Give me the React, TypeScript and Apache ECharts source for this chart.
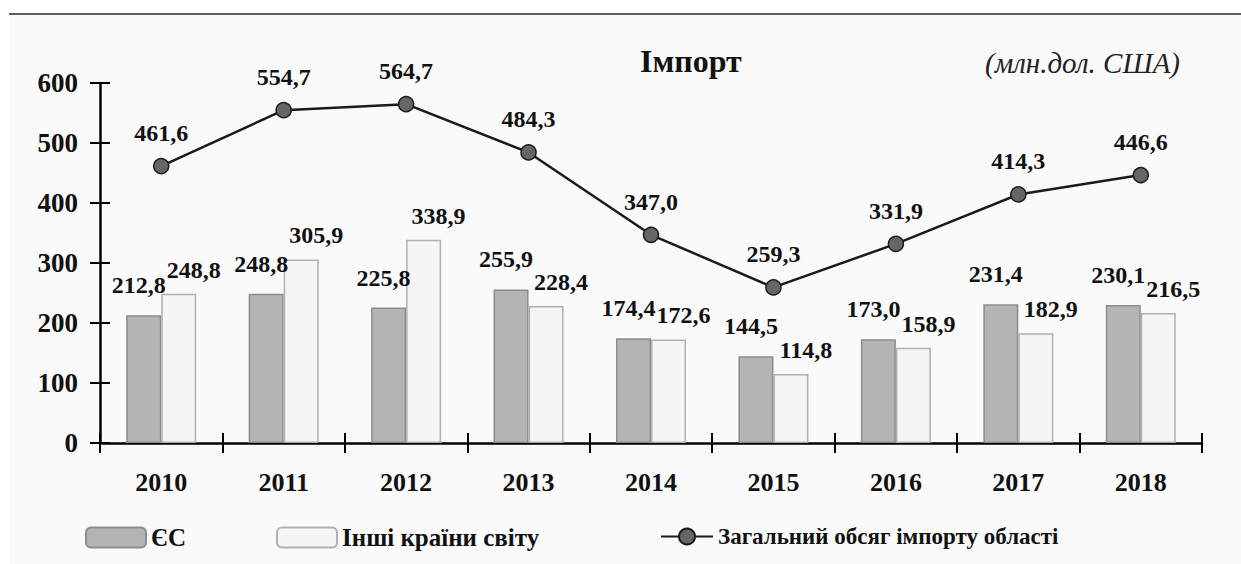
import React, { useEffect, useRef } from "react";
import * as echarts from "echarts";

const years = ["2010", "2011", "2012", "2013", "2014", "2015", "2016", "2017", "2018"];
const euValues = [212.8, 248.8, 225.8, 255.9, 174.4, 144.5, 173.0, 231.4, 230.1];
const otherValues = [248.8, 305.9, 338.9, 228.4, 172.6, 114.8, 158.9, 182.9, 216.5];
const totalValues = [461.6, 554.7, 564.7, 484.3, 347.0, 259.3, 331.9, 414.3, 446.6];
const yTicks = { min: 0, max: 600, interval: 100 };

const FONT = "Liberation Serif";
const fmt = (v: number) => v.toFixed(1).replace(".", ",");

export default function App() {
  const ref = useRef<HTMLDivElement>(null);
  useEffect(() => {
    if (!ref.current) return;
    const chart = echarts.init(ref.current, null, { renderer: "svg" });
    const labelBase = {
      show: true,
      position: "top" as const,
      fontFamily: FONT,
      fontWeight: "bold" as const,
      fontSize: 24,
      color: "#111",
      formatter: (p: any) => fmt(p.value),
    };
    const legendText = { fontFamily: FONT, fontWeight: "bold", fontSize: 25, color: "#111" };
    chart.setOption({
      animation: false,
      backgroundColor: "transparent",
      textStyle: { fontFamily: FONT },
      title: [
        {
          text: "Імпорт",
          left: 640,
          top: 45,
          padding: 0,
          textStyle: { fontFamily: FONT, fontWeight: "bold", fontSize: 32, color: "#111" },
        },
        {
          text: "(млн.дол. США)",
          left: 985,
          top: 48,
          padding: 0,
          textStyle: { fontFamily: FONT, fontStyle: "italic", fontWeight: "normal", fontSize: 29, color: "#222" },
        },
      ],
      grid: { left: 100, right: 39, top: 83, bottom: 121, containLabel: false },
      legend: [
        { data: ["ЄС"], left: 85, top: 525, padding: 0, itemWidth: 60, itemHeight: 20, textStyle: legendText },
        {
          data: ["Інші країни світу"],
          left: 276,
          top: 525,
          padding: 0,
          itemWidth: 60,
          itemHeight: 20,
          textStyle: legendText,
        },
        {
          data: ["Загальний обсяг імпорту області"],
          left: 660,
          top: 525,
          padding: 0,
          itemWidth: 52,
          itemHeight: 20,
          textStyle: { ...legendText, fontSize: 23 },
        },
      ],
      xAxis: [
        {
          type: "category",
          data: years,
          axisLine: { lineStyle: { color: "#000", width: 2.5 } },
          axisTick: { show: true, length: 10, inside: false, lineStyle: { color: "#000", width: 2 } },
          axisLabel: { fontFamily: FONT, fontWeight: "bold", fontSize: 26, color: "#111", margin: 26 },
        },
        {
          type: "category",
          data: years,
          position: "bottom",
          axisLine: { show: false },
          axisTick: { show: true, length: 10, inside: true, lineStyle: { color: "#000", width: 2 } },
          axisLabel: { show: false },
        },
      ],
      yAxis: [
        {
          type: "value",
          ...yTicks,
          position: "left",
          splitLine: { show: false },
          axisLine: { show: true, lineStyle: { color: "#000", width: 2.5 } },
          axisTick: { show: true, length: 10, inside: false, lineStyle: { color: "#000", width: 2 } },
          axisLabel: { fontFamily: FONT, fontWeight: "bold", fontSize: 27, color: "#111", margin: 22 },
        },
        {
          type: "value",
          ...yTicks,
          position: "left",
          splitLine: { show: false },
          axisLine: { show: false },
          axisTick: { show: true, length: 10, inside: true, lineStyle: { color: "#000", width: 2 } },
          axisLabel: { show: false },
        },
      ],
      series: [
        {
          name: "ЄС",
          type: "bar",
          data: euValues,
          barWidth: 35,
          barGap: "0%",
          itemStyle: { color: "#b4b4b4", borderColor: "#8c8c8c", borderWidth: 1.5 },
          label: { ...labelBase, distance: 18, offset: [-5, 0] },
        },
        {
          name: "Інші країни світу",
          type: "bar",
          data: otherValues,
          barWidth: 35,
          barGap: "0%",
          itemStyle: { color: "#f5f5f5", borderColor: "#b0b0b0", borderWidth: 1.5 },
          label: { ...labelBase, distance: 12, offset: [15, 0] },
        },
        {
          name: "Загальний обсяг імпорту області",
          type: "line",
          data: totalValues,
          symbol: "circle",
          symbolSize: 15,
          z: 5,
          lineStyle: { color: "#1a1a1a", width: 2.5 },
          itemStyle: { color: "#666", borderColor: "#1a1a1a", borderWidth: 1.5 },
          label: { ...labelBase, distance: 13 },
        },
      ],
    });
    return () => chart.dispose();
  }, []);
  return (
    <div style={{ position: "fixed", left: 0, top: 0, width: 1241, height: 564, background: "#fff" }}>
      <div
        style={{
          position: "absolute",
          left: 9,
          top: 13,
          right: 0,
          bottom: 0,
          background: "#fafafa",
          borderTop: "2px solid #5e5e5e",
        }}
      />
      <div ref={ref} style={{ position: "absolute", left: 0, top: 0, width: 1241, height: 564 }} />
    </div>
  );
}
